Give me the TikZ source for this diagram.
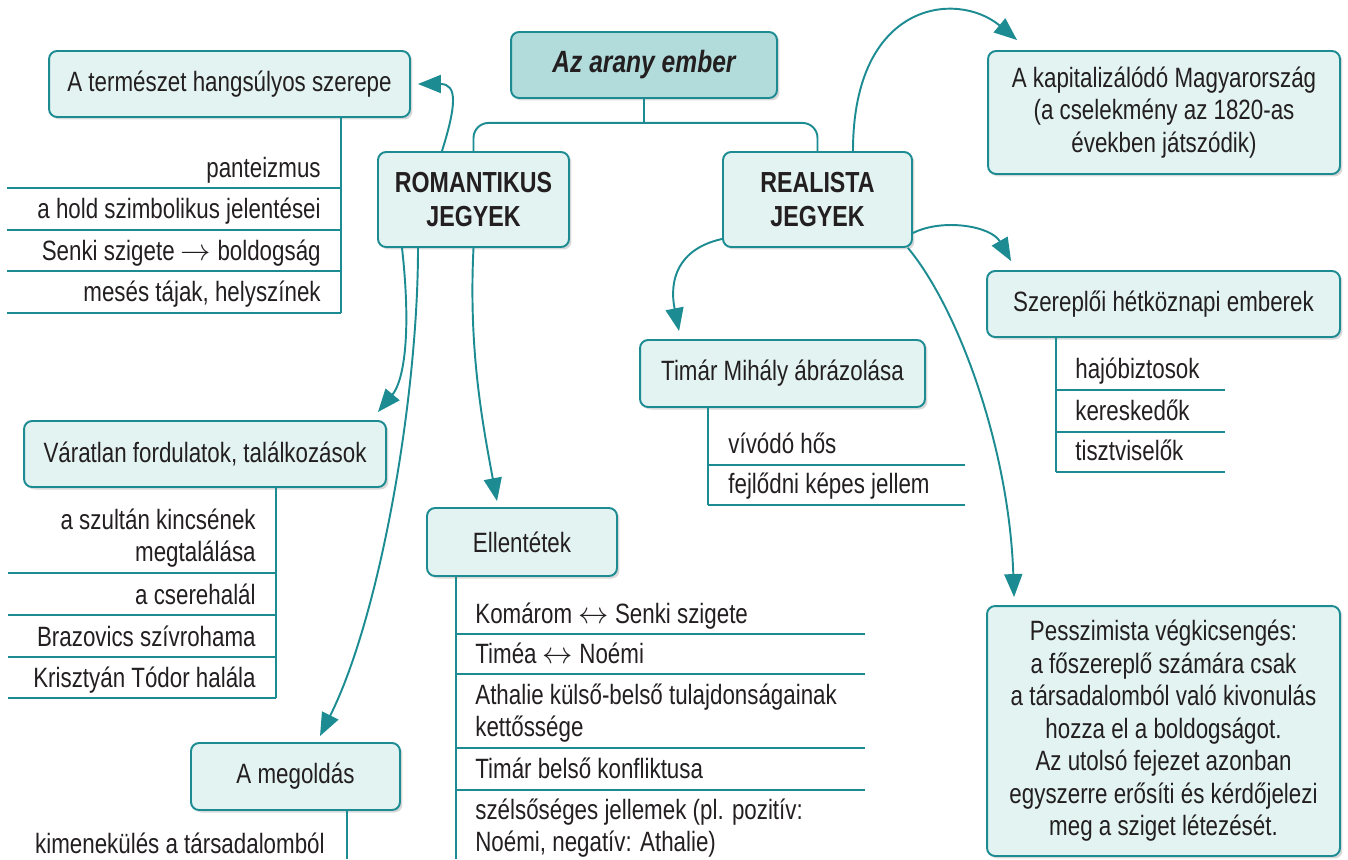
\documentclass[tikz,border=0pt]{standalone}
\usepackage{fontspec}
\setmainfont{Liberation Sans}[FakeStretch=0.8]
\usetikzlibrary{arrows.meta,shadows}
\definecolor{teal1}{HTML}{1C8C92}
\definecolor{boxfill}{HTML}{E2F3F1}
\definecolor{titlefill}{HTML}{B2DCDB}
\definecolor{ink}{HTML}{231F20}

\begin{document}
\begin{tikzpicture}[x=0.02cm,y=-0.02cm,
   every node/.style={text=ink,font=\fontsize{15.9}{18.5}\selectfont},
   box/.style={draw=teal1,fill=boxfill,line width=1.1pt,rounded corners=0.16cm,align=center,inner sep=0pt,
     drop shadow={shadow xshift=0.05cm,shadow yshift=-0.05cm,opacity=0.3,fill=black!50}},
   item/.style={inner sep=0pt},
   link/.style={teal1,line width=1.1pt},
   arr/.style={link,-{Triangle[length=0.46cm,width=0.36cm]}}]
   \useasboundingbox (0,0) rectangle (1348,859);

   % main boxes
   \node (title) at (644,65) [box,fill=titlefill,minimum width=5.32cm,minimum height=1.32cm,font=\fontsize{17.5}{20}\selectfont\bfseries\itshape] {Az arany ember};
   \node (rom) at (473.5,199.5) [box,minimum width=3.82cm,minimum height=1.9cm,font=\fontsize{16.5}{19}\selectfont\bfseries] {ROMANTIKUS\\JEGYEK};
   \node (real) at (817.5,199.5) [box,minimum width=3.78cm,minimum height=1.9cm,font=\fontsize{16.5}{19}\selectfont\bfseries] {REALISTA\\JEGYEK};
   \draw[link] (title.south) -- ++(0,24) coordinate (fork);
   \draw[link,rounded corners=0.3cm] (rom.north) |- (fork) -| (real.north);

   % romantic side
   \node (nat) at (229.5,84) [box,minimum width=7.22cm,minimum height=1.32cm] {A természet hangsúlyos szerepe};
   \node (var) at (205,454) [box,minimum width=7.24cm,minimum height=1.32cm] {Váratlan fordulatok, találkozások};
   \node (ell) at (522,542) [box,minimum width=3.8cm,minimum height=1.36cm] {Ellentétek};
   \node (meg) at (295.5,776.5) [box,minimum width=4.18cm,minimum height=1.34cm] {A megoldás};

   \draw[arr] ([xshift=-0.63cm]rom.north) .. controls +(14,-45) and +(40,0) .. ([xshift=0.14cm]nat.east);
   \draw[arr] ([xshift=-1.43cm]rom.south) .. controls +(10,90) and +(25,-30) .. ([xshift=-0.18cm,yshift=0.16cm]var.north east);
   \draw[arr] ([xshift=-1.11cm]rom.south) .. controls +(0,150) and +(60,-120) .. ([xshift=0.49cm,yshift=0.12cm]meg.north);
   \draw[arr] (rom.south) .. controls +(-5,100) and +(-15,-80) .. ([xshift=-0.5cm,yshift=0.12cm]ell.north);

   \node (nat1) at (321,177) [item,anchor=base east] {panteizmus};
   \node (nat2) at (321,218) [item,anchor=base east] {a hold szimbolikus jelentései};
   \node (nat3) at (321,260) [item,anchor=base east] {Senki szigete $\rightarrow$ boldogság};
   \node (nat4) at (321,301) [item,anchor=base east] {mesés tájak, helyszínek};
   \coordinate (natbar) at (341,313);
   \draw[link] (natbar |- nat.south) -- (natbar);
   \draw[link] (7,188) -- (341,188);
   \draw[link] (7,230) -- (341,230);
   \draw[link] (7,271) -- (341,271);
   \draw[link] (7,313) -- (341,313);

   \node (var1) at (256,568) [item,anchor=south east,align=right] {a szultán kincsének\\megtalálása};
   \node (var2) at (256,604) [item,anchor=base east] {a cserehalál};
   \node (var3) at (256,646) [item,anchor=base east] {Brazovics szívrohama};
   \node (var4) at (256,687) [item,anchor=base east] {Krisztyán Tódor halála};
   \coordinate (varbar) at (276,698);
   \draw[link] (varbar |- var.south) -- (varbar);
   \draw[link] (8,573) -- (276,573);
   \draw[link] (8,615) -- (276,615);
   \draw[link] (8,657) -- (276,657);
   \draw[link] (8,698) -- (276,698);

   \node (meg1) at (325,853) [item,anchor=base east] {kimenekülés a társadalomból};
   \coordinate (megbar) at (347,859);
   \draw[link] (megbar |- meg.south) -- (megbar);

   \node (ell1) at (475,623) [item,anchor=base west] {Komárom $\leftrightarrow$ Senki szigete};
   \node (ell2) at (475,663) [item,anchor=base west] {Timéa $\leftrightarrow$ Noémi};
   \node (ell3) at (475,743) [item,anchor=south west,align=left] {Athalie külső-belső tulajdonságainak\\kettőssége};
   \node (ell4) at (475,778) [item,anchor=base west] {Timár belső konfliktusa};
   \node (ell5) at (475,858) [item,anchor=south west,align=left] {szélsőséges jellemek (pl. pozitív:\\Noémi, negatív: Athalie)};
   \coordinate (ellbar) at (456,859);
   \draw[link] (ellbar |- ell.south) -- (ellbar);
   \draw[link] (456,634) -- (865,634);
   \draw[link] (456,674) -- (865,674);
   \draw[link] (456,748) -- (865,748);
   \draw[link] (456,790) -- (865,790);

   % realist side
   \node (kap) at (1164,112.5) [box,minimum width=7.04cm,minimum height=2.46cm] {A kapitalizálódó Magyarország\\(a cselekmény az 1820-as\\években játszódik)};
   \node (szer) at (1163.5,304) [box,minimum width=7.06cm,minimum height=1.32cm] {Szereplői hétköznapi emberek};
   \node (timar) at (782.5,373.5) [box,minimum width=5.7cm,minimum height=1.34cm] {Timár Mihály ábrázolása};
   \node (pessz) at (1163.5,731) [box,minimum width=7.06cm,minimum height=5cm] {Pesszimista végkicsengés:\\a főszereplő számára csak\\a társadalomból való kivonulás\\hozza el a boldogságot.\\Az utolsó fejezet azonban\\egyszerre erősíti és kérdőjelezi\\meg a sziget létezését.};

   \draw[arr] ([xshift=0.71cm]real.north) .. controls +(0,-150) and +(-60,-50) .. ([xshift=0.6cm,yshift=0.2cm]kap.north west);
   \draw[arr] ([yshift=-0.67cm]real.east) .. controls +(30,-15) and +(-20,-35) .. ([xshift=0.5cm,yshift=0.18cm]szer.north west);
   \draw[arr] ([yshift=0.18cm]real.south west) .. controls +(-45,10) and +(-10,-50) .. ([xshift=0.8cm,yshift=0.16cm]timar.north west);
   \draw[arr] ([xshift=-0.1cm]real.south east) .. controls +(50,60) and +(-5,-150) .. ([xshift=0.56cm,yshift=0.16cm]pessz.north west);

   \node (tim1) at (728,453) [item,anchor=base west] {vívódó hős};
   \node (tim2) at (728,493) [item,anchor=base west] {fejlődni képes jellem};
   \coordinate (timbar) at (708,505);
   \draw[link] (timbar |- timar.south) -- (timbar);
   \draw[link] (708,465) -- (965,465);
   \draw[link] (708,505) -- (965,505);

   \node (sz1) at (1075,378) [item,anchor=base west] {hajóbiztosok};
   \node (sz2) at (1075,420) [item,anchor=base west] {kereskedők};
   \node (sz3) at (1075,460) [item,anchor=base west] {tisztviselők};
   \coordinate (szbar) at (1056,472);
   \draw[link] (szbar |- szer.south) -- (szbar);
   \draw[link] (1056,390) -- (1225,390);
   \draw[link] (1056,432) -- (1225,432);
   \draw[link] (1056,472) -- (1225,472);
\end{tikzpicture}
\end{document}
